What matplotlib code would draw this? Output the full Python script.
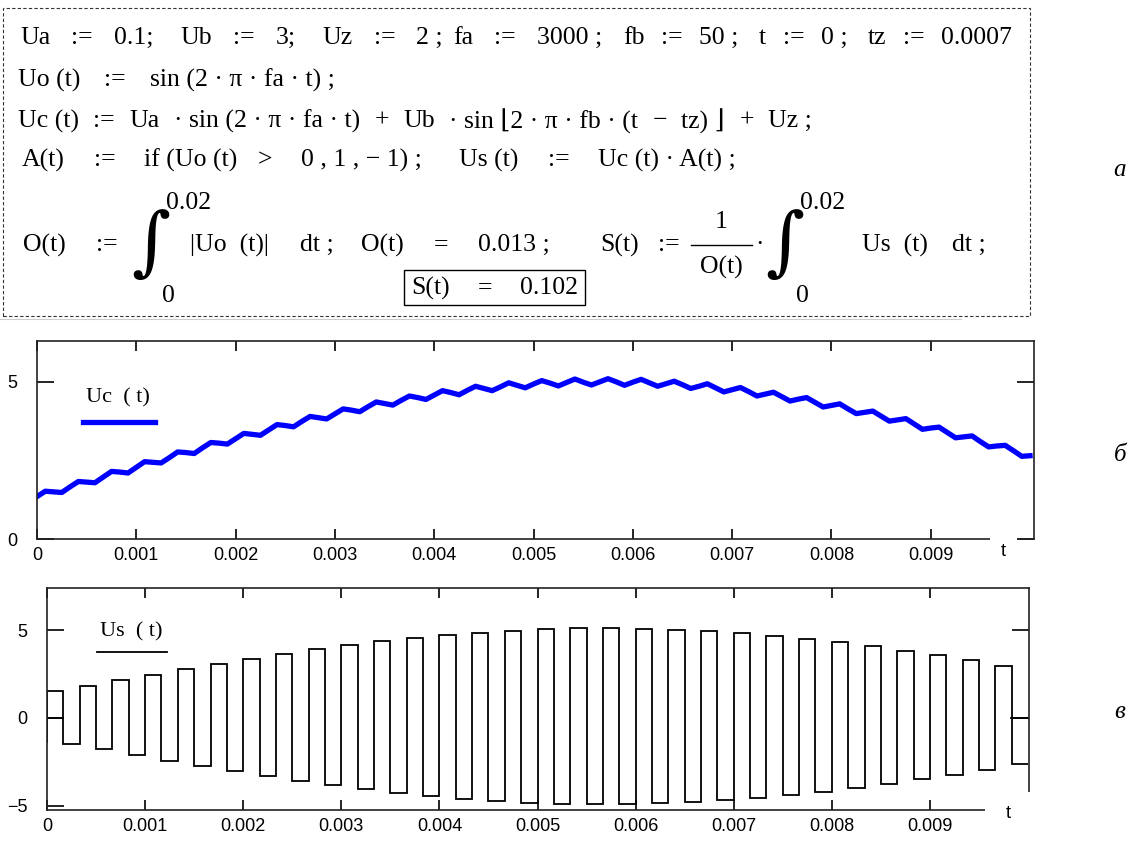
import numpy as np
import matplotlib.pyplot as plt
from matplotlib.patches import Rectangle
from matplotlib.lines import Line2D

# Uc(t), one value every 1/12000 s (0 .. 0.01 s)
uc_dt = 1 / 12000
uc_values = [
    1.35, 1.52, 1.50, 1.48, 1.66, 1.83, 1.81, 1.79, 1.97, 2.15,
    2.13, 2.10, 2.28, 2.46, 2.44, 2.42, 2.59, 2.77, 2.75, 2.72,
    2.90, 3.07, 3.05, 3.02, 3.19, 3.36, 3.33, 3.30, 3.47, 3.64,
    3.61, 3.57, 3.74, 3.90, 3.86, 3.82, 3.98, 4.14, 4.10, 4.05,
    4.21, 4.36, 4.31, 4.26, 4.41, 4.55, 4.50, 4.44, 4.58, 4.72,
    4.66, 4.59, 4.73, 4.86, 4.79, 4.72, 4.84, 4.97, 4.89, 4.81,
    4.93, 5.04, 4.96, 4.87, 4.98, 5.09, 4.99, 4.90, 5.00, 5.10,
    5.00, 4.89, 4.99, 5.08, 4.97, 4.86, 4.94, 5.02, 4.91, 4.79,
    4.86, 4.94, 4.81, 4.68, 4.75, 4.82, 4.69, 4.55, 4.61, 4.67,
    4.53, 4.39, 4.45, 4.50, 4.35, 4.20, 4.25, 4.30, 4.14, 3.99,
    4.03, 4.07, 3.91, 3.75, 3.79, 3.83, 3.66, 3.49, 3.53, 3.56,
    3.39, 3.22, 3.25, 3.28, 3.10, 2.93, 2.96, 2.98, 2.81, 2.63,
    2.65,
]

# Us(t) levels of each half period of the 3000 Hz carrier
us_half = 1 / 6000
us_levels = [
    1.52, -1.48, 1.83, -1.79, 2.15, -2.10, 2.46, -2.42, 2.77, -2.72,
    3.07, -3.02, 3.36, -3.30, 3.64, -3.57, 3.90, -3.82, 4.14, -4.05,
    4.36, -4.26, 4.55, -4.44, 4.72, -4.59, 4.86, -4.72, 4.97, -4.81,
    5.04, -4.87, 5.09, -4.90, 5.10, -4.89, 5.08, -4.86, 5.02, -4.79,
    4.94, -4.68, 4.82, -4.55, 4.67, -4.39, 4.50, -4.20, 4.30, -3.99,
    4.07, -3.75, 3.83, -3.49, 3.56, -3.22, 3.28, -2.93, 2.98, -2.63,
]
us_start = -1.35
zero_spans = [(0.0, 0.000167), (0.00983, 0.01)]

x_ticks = [0, 0.001, 0.002, 0.003, 0.004, 0.005, 0.006, 0.007, 0.008, 0.009]
x_tick_labels = ['0', '0.001', '0.002', '0.003', '0.004', '0.005',
                 '0.006', '0.007', '0.008', '0.009']

W, H = 1129, 844


def fx(x):
    return x / W


def fy(y):
    return 1 - y / H


serif = ['Liberation Serif', 'DejaVu Serif']
sans = ['Liberation Sans', 'DejaVu Sans']
fs = 18.5

fig = plt.figure(figsize=(W / 100, H / 100), dpi=100)
renderer = fig.canvas.get_renderer()


def spread(tokens, x0, x1, y, weights=None):
    # place tokens so that they fill x0..x1 (pixels), like Mathcad spacing
    texts = [fig.text(0, fy(y), s, fontsize=fs, family=serif, va='center', ha='left')
             for s in tokens]
    widths = [t.get_window_extent(renderer).width for t in texts]
    if weights is None:
        weights = [1.0] * (len(tokens) - 1)
    gap = ((x1 - x0) - sum(widths)) / max(sum(weights), 1)
    x = x0
    for i, t in enumerate(texts):
        t.set_x(fx(x))
        if i < len(weights):
            x += widths[i] + gap * weights[i]


# ---- formula block ----
fig.add_artist(Rectangle((fx(3), fy(316)), (1030 - 3) / W, (316 - 8) / H,
                         fill=False, ls=(0, (3, 2)), lw=0.8, ec='#333333',
                         transform=fig.transFigure))
fig.add_artist(Line2D([fx(0), fx(961)], [fy(319), fy(319)], color='#cccccc', lw=0.8))

spread(["Ua", ":=", "0.1;", "Ub", ":=", "3;", "Uz", ":=", "2 ;", "fa", ":=", "3000 ;"],
       20, 602, 38, [1, 1, 1.3, 1, 1, 1.3, 1, 1, 0.5, 1, 1])
spread(["fb", ":=", "50 ;", "t", ":=", "0 ;", "tz", ":=", "0.0007"], 623, 1012, 38,
       [1, 1, 1.2, 1, 1, 1.2, 1, 1])
spread(["Uo (t)", ":=", "sin (2 · π · fa · t) ;"], 18, 335, 80)
spread(["Uc (t)", ":=", "Ua", "· sin (2 · π · fa · t)", "+", "Ub", "· sin ⌊2 · π · fb · (t",
        "−", "tz) ⌋", "+", "Uz ;"], 18, 812, 121)
spread(["A(t)", ":=", "if (Uo (t)", ">", "0 , 1 , − 1) ;", "Us (t)", ":=",
        "Uc (t) · A(t) ;"], 22, 736, 160, [1, 1, 0.7, 1, 1.3, 1, 1])

ly = 245
spread(["O(t)", ":="], 23, 118, ly)
fig.text(fx(131), fy(246), "∫", fontsize=54, family=['DejaVu Serif'], va='center')
fig.text(fx(166), fy(203), "0.02", fontsize=fs, family=serif, va='center')
fig.text(fx(162), fy(296), "0", fontsize=fs, family=serif, va='center')
spread(["|Uo  (t)|", "dt ;"], 190, 334, ly)
spread(["O(t)", "=", "0.013 ;"], 361, 550, ly)
spread(["S(t)", ":="], 600, 680, ly)
fig.text(fx(721), fy(222), "1", fontsize=fs, family=serif, va='center', ha='center')
fig.add_artist(Line2D([fx(691), fx(752)], [fy(245), fy(245)], color='black', lw=1.0))
fig.text(fx(721), fy(267), "O(t)", fontsize=fs, family=serif, va='center', ha='center')
fig.text(fx(755), fy(ly), "·", fontsize=fs, family=serif, va='center')
fig.text(fx(765), fy(246), "∫", fontsize=54, family=['DejaVu Serif'], va='center')
fig.text(fx(800), fy(203), "0.02", fontsize=fs, family=serif, va='center')
fig.text(fx(796), fy(296), "0", fontsize=fs, family=serif, va='center')
spread(["Us  (t)", "dt ;"], 862, 986, ly)
fig.add_artist(Rectangle((fx(404), fy(305)), (585 - 404) / W, 35 / H, fill=False,
                         ec='black', lw=1.0, transform=fig.transFigure))
spread(["S(t)", "=", "0.102"], 411, 578, 288)

for y, s in [(170, 'а'), (455, 'б'), (712, 'в')]:
    fig.text(fx(1120), fy(y), s, fontsize=18, family=serif, style='italic',
             va='center', ha='center')


def style_axes(ax, yticks):
    ax.set_xticks(x_ticks)
    ax.set_xticklabels(x_tick_labels, family=sans, fontsize=13)
    ax.set_yticks(yticks)
    ax.set_yticklabels([f"{v:g}".replace('-', '−') for v in yticks], family=sans, fontsize=13)
    ax.tick_params(axis='x', direction='in', length=7, width=1.2, top=True, pad=6)
    ax.tick_params(axis='y', direction='in', length=12, width=1.2, right=True, pad=14)
    for sp in ax.spines.values():
        sp.set_linewidth(1.2)
        sp.set_color('#222222')


# ---- Uc(t) ----
ax1 = fig.add_axes([fx(37), fy(539), (1034 - 37) / W, (539 - 341) / H])
t_uc = np.arange(len(uc_values)) * uc_dt
ax1.plot(t_uc, uc_values, color='#0000ff', lw=3.8, solid_joinstyle='round')
ax1.set_xlim(0, 0.01004)
ax1.set_ylim(0, 6.3)
style_axes(ax1, [0, 5])
fig.text(fx(86), fy(398), "Uc  ( t)", fontsize=16, family=serif, va='center')
fig.add_artist(Line2D([fx(83), fx(155)], [fy(422), fy(422)], color='#0000ff', lw=3.8))
fig.add_artist(Rectangle((fx(990), fy(543)), 27 / W, 8 / H, fc='white', ec='none',
                         transform=fig.transFigure, zorder=5))
fig.text(fx(1003), fy(551), "t", fontsize=13, family=sans, va='center', ha='center', zorder=6)

# ---- Us(t) ----
ax2 = fig.add_axes([fx(47), fy(810), (1029 - 47) / W, (810 - 588) / H])
edges = np.arange(len(us_levels) + 1) * us_half
ax2.stairs(us_levels, edges, baseline=None, color='black', lw=1.3)
ax2.plot([0, 0], [us_start, us_levels[0]], color='black', lw=1.3)
for a, b in zero_spans:
    ax2.plot([a, b], [0, 0], color='black', lw=1.3)
ax2.set_xlim(0, 0.01001)
ax2.set_ylim(-5.23, 7.39)
style_axes(ax2, [-5, 0, 5])
fig.text(fx(100), fy(632), "Us  ( t)", fontsize=16, family=serif, va='center')
fig.add_artist(Line2D([fx(97), fx(167)], [fy(652), fy(652)], color='black', lw=1.3))
fig.add_artist(Rectangle((fx(985), fy(815)), 50 / W, 23 / H, fc='white', ec='none',
                         transform=fig.transFigure, zorder=5))
fig.text(fx(1008), fy(813), "t", fontsize=13, family=sans, va='center', ha='center', zorder=6)

fig.savefig('out.png', dpi=100)
